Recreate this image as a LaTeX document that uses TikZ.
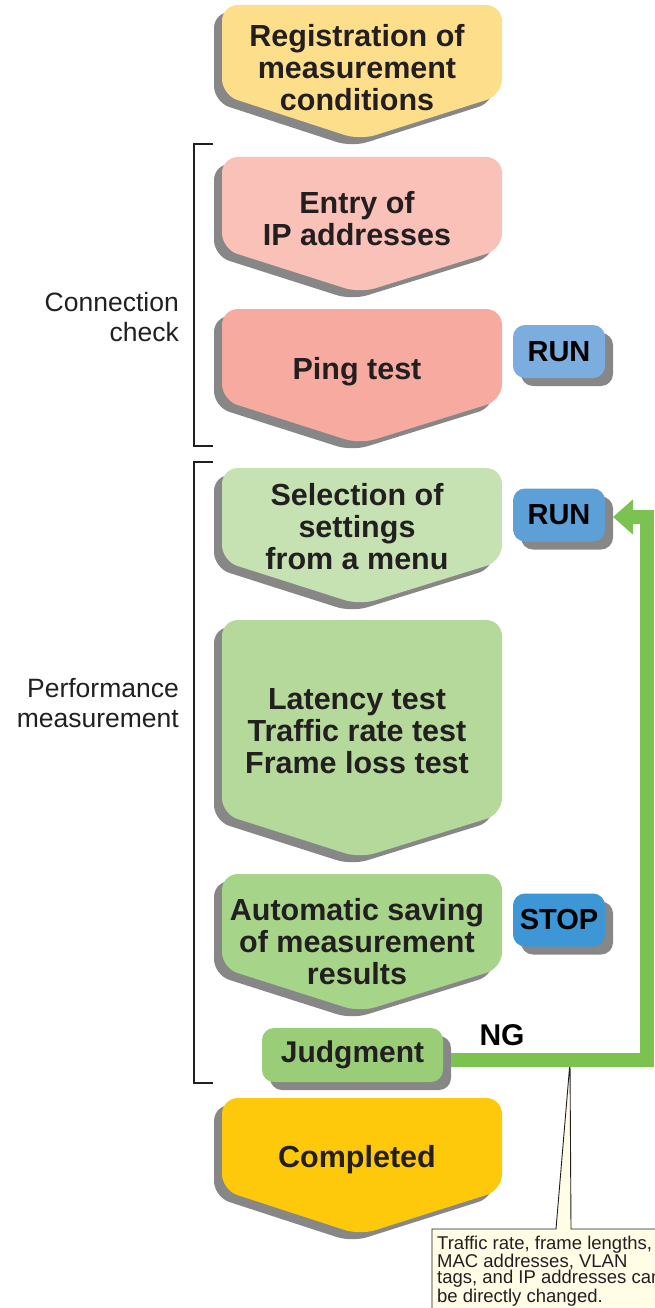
\documentclass[tikz,border=0pt]{standalone}
\usepackage{fontspec}
\setmainfont{Liberation Sans}
\usetikzlibrary{arrows.meta,shadows}
\definecolor{txt}{HTML}{231F20}
\definecolor{shadowgray}{HTML}{878787}
\definecolor{cA}{HTML}{FDDE8A}
\definecolor{cB}{HTML}{F9C1B7}
\definecolor{cC}{HTML}{F7AAA0}
\definecolor{cD}{HTML}{C6E2B2}
\definecolor{cE}{HTML}{B5D99B}
\definecolor{cF}{HTML}{A6D488}
\definecolor{cJ}{HTML}{9ACD78}
\definecolor{cG}{HTML}{FFC90B}
\definecolor{runA}{HTML}{7BAEDE}
\definecolor{runB}{HTML}{5DA0D8}
\definecolor{stopc}{HTML}{3D96D5}
\definecolor{arrowgreen}{HTML}{7CC250}
\definecolor{cream}{HTML}{FFFDE6}
\newcommand\chevshape[4]{%
  \fill[shadowgray,rounded corners=16pt,shift={(-8,7)}] (360,#1) -- (502,#1) -- (502,#2) -- (360,#3) -- (222,#2) -- (222,#1) -- cycle;
  \fill[#4,rounded corners=16pt] (360,#1) -- (502,#1) -- (502,#2) -- (360,#3) -- (222,#2) -- (222,#1) -- cycle;
}
\tikzset{
  boxtext/.style={font=\bfseries\fontsize{30.5}{32}\selectfont, align=center, text=txt, inner sep=0pt},
  sidelabel/.style={font=\fontsize{26.5}{30}\selectfont, align=right, text=txt, inner sep=0pt, anchor=east},
  btn/.style={rounded corners=12pt, minimum width=92pt, minimum height=53pt, inner sep=0pt,
    font=\bfseries\fontsize{29}{30}\selectfont, text=black,
    drop shadow={shadow xshift=8pt, shadow yshift=-8pt, fill=shadowgray, opacity=1}},
  bracket/.style={line width=1.8pt, draw=txt},
}
\begin{document}
\begin{tikzpicture}[x=1pt,y=-1pt]
\useasboundingbox (0,0) rectangle (655,1308);
\clip (0,0) rectangle (655,1308);
% chevron boxes
\chevshape{5}{95}{140}{cA}
\chevshape{157}{249}{293}{cB}
\chevshape{309}{400}{444}{cC}
\chevshape{468}{561}{605}{cD}
\chevshape{620}{814}{858}{cE}
\chevshape{874}{968}{1012}{cF}
\chevshape{1098}{1190}{1235}{cG}
\node[boxtext] (reg) at (357,68) {Registration of\\measurement\\conditions};
\node[boxtext] (ip) at (357,219) {Entry of\\IP addresses};
\node[boxtext] (ping) at (357,372) {Ping test};
\node[boxtext] (sel) at (357,527) {Selection of\\settings\\from a menu};
\node[boxtext] (lat) at (357,731) {Latency test\\Traffic rate test\\Frame loss test};
\node[boxtext] (save) at (357,942) {Automatic saving\\of measurement\\results};
\node[boxtext] (done) at (357,1160) {Completed};
% buttons
\node[btn, fill=runA] (run1) at (559,351.5) {RUN};
\node[btn, fill=runB] (run2) at (559,515) {RUN};
\node[btn, fill=stopc] (stop) at (559,920) {STOP};
\node[btn, fill=cJ, minimum width=181pt, minimum height=54pt, font=\bfseries\fontsize{30}{30}\selectfont, text=txt] (judg) at (352.5,1055) {Judgment};
% brackets
\draw[bracket] (213,144) -- (194,144) -- (194,446) -- (213,446);
\draw[bracket] (213,462) -- (194,462) -- (194,1083) -- (213,1083);
\node[sidelabel] (conn) at (179,317) {Connection\\check};
\node[sidelabel] (perf) at (179,703) {Performance\\measurement};
% callout
\coordinate (tip) at (570,1062);
\filldraw[fill=cream, draw=txt, line width=0.9pt] (432,1229) -- (556,1229) -- (tip) -- (571,1229) -- (700,1229) -- (700,1350) -- (432,1350) -- cycle;
\node[anchor=north west, align=left, inner sep=0pt, text=txt, font=\fontsize{18.5}{16}\selectfont] (note) at (437,1236) {Traffic rate, frame lengths,\\MAC addresses, VLAN\\tags, and IP addresses can\\be directly changed.};
% NG feedback arrow
\coordinate (ngstart) at (451,1060);
\coordinate (ngcorner) at (647,1060);
\coordinate (ngtop) at (647,517);
\coordinate (ngend) at (613,517);
\draw[arrowgreen, line width=14pt, -{Triangle[length=20pt,width=34pt]}] (ngstart) -- (ngcorner) -- (ngtop) -- (ngend);
\node[font=\bfseries\fontsize{30}{30}\selectfont, text=black] (ng) at (502,1035) {NG};
\end{tikzpicture}
\end{document}
